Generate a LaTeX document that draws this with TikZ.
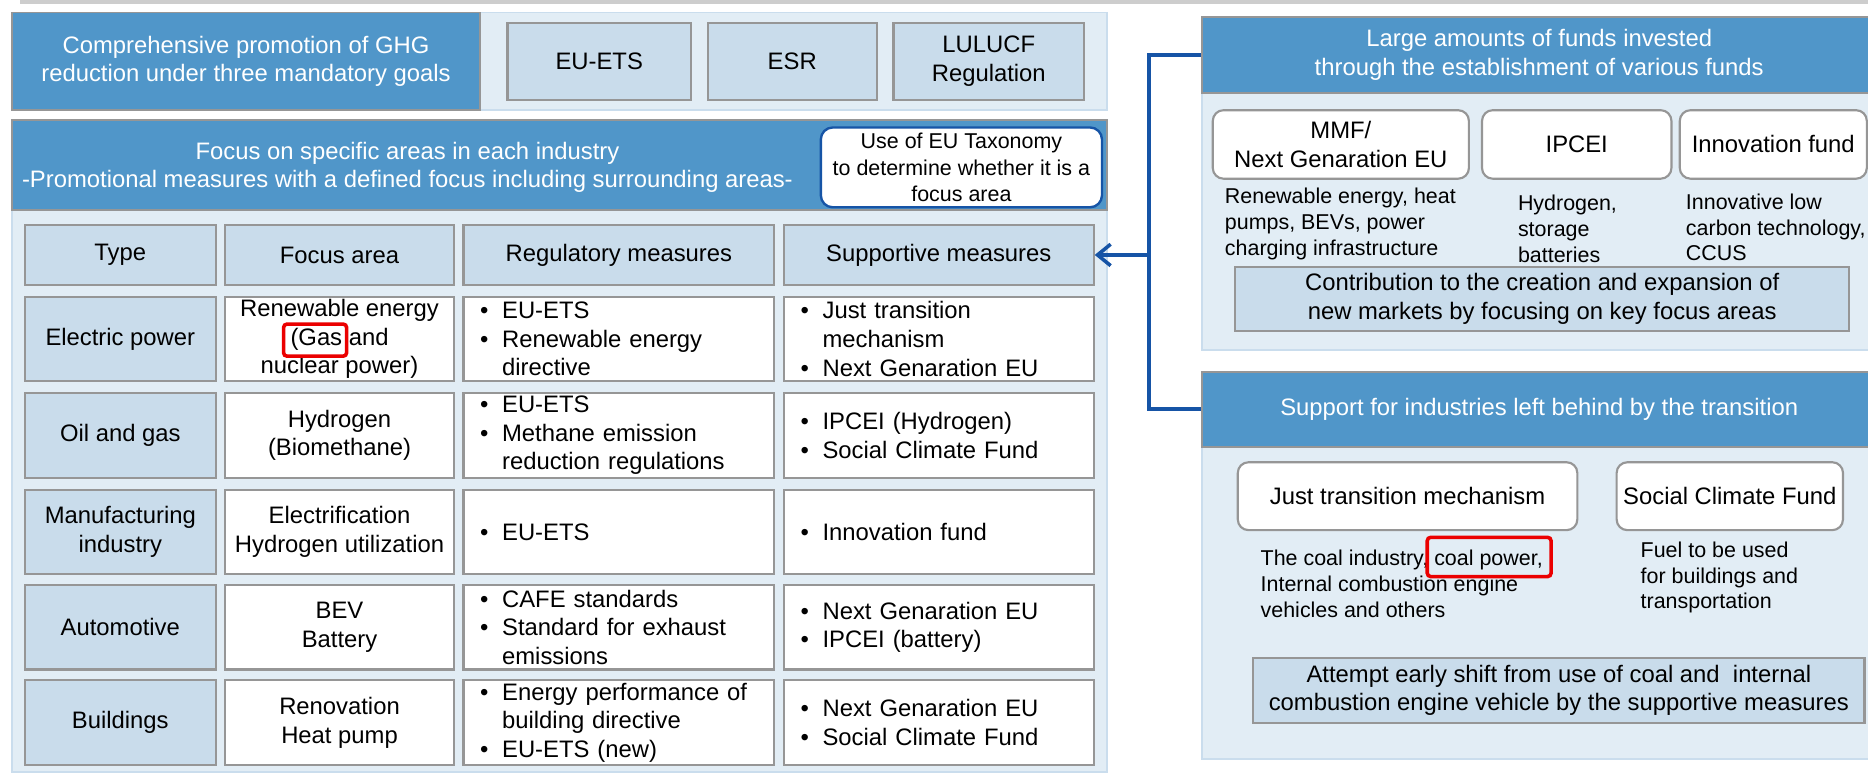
\documentclass[tikz,border=0pt]{standalone}
\usepackage{fontspec}
\setmainfont{Liberation Sans}
\usetikzlibrary{arrows.meta}

\definecolor{hdrblue}{RGB}{80,150,201}
\definecolor{panelbg}{RGB}{226,237,245}
\definecolor{panelline}{RGB}{202,221,237}
\definecolor{cellblue}{RGB}{201,220,235}
\definecolor{cellline}{RGB}{150,150,150}
\definecolor{linkblue}{RGB}{22,84,166}
\definecolor{markred}{RGB}{235,0,0}
\definecolor{topbar}{RGB}{205,205,205}

\tikzset{
  panel/.style={draw=panelline, line width=1.5pt, fill=panelbg, inner sep=0pt},
  hdrbox/.style={draw=cellline, line width=1.5pt, fill=hdrblue, text=white, align=center, inner sep=0pt},
  lawbox/.style={draw=cellline, line width=1.8pt, fill=cellblue, align=center, inner sep=0pt},
  cell/.style={draw=cellline, line width=1.8pt, fill=white, align=center, inner sep=0pt},
  listcell/.style={cell, align=left, inner xsep=14pt, text width=#1, minimum height=71pt},
  fundbox/.style={draw=cellline, line width=1.8pt, fill=white, rounded corners=9pt, align=center, inner sep=0pt},
  note/.style={align=left, inner sep=0pt, anchor=west, font=\fontsize{18}{21.5}\selectfont},
  link/.style={draw=linkblue, line width=3pt},
  hilite/.style={draw=markred, line width=3pt, rounded corners=3pt},
}

% bullet item and continuation line
\newcommand{\bul}{\makebox[18.5pt][l]{\textbullet}}
\newcommand{\ind}{\hspace*{18.5pt}}

\begin{document}
\begin{tikzpicture}[x=1pt, y=-1pt, font=\fontsize{20}{24}\selectfont]
    \useasboundingbox (0,0) rectangle (1568,650);
    \fill[topbar] (17,0) rectangle (1568,3);

    % mandatory goals
    \node[panel, minimum width=526pt, minimum height=82pt] (goalpanel) at (666,51.5) {};
    \node[hdrbox, minimum width=393pt, minimum height=82pt] (goalhdr) at (206.5,51.5)
        {Comprehensive promotion of GHG\\reduction under three mandatory goals};
    \node[lawbox, minimum width=154pt, minimum height=65pt] (ets) at (503,51.5) {EU-ETS};
    \node[lawbox, minimum width=142pt, minimum height=65pt] (esr) at (665,51.5) {ESR};
    \node[lawbox, minimum width=160pt, minimum height=65pt] (lulucf) at (830,51.5) {LULUCF\\Regulation};

    % focus areas
    \node[panel, minimum width=919pt, minimum height=472pt] (focuspanel) at (469.5,412) {};
    \node[hdrbox, minimum width=919pt, minimum height=75pt] (focushdr) at (469.5,138.5) {};
    \node[text=white, align=center, inner sep=0pt] (focustxt) at (342,140.5)
        {Focus on specific areas in each industry\\-Promotional measures with a defined focus including surrounding areas-};
    \node[draw=linkblue, line width=2pt, fill=white, rounded corners=10pt, align=center, inner sep=0pt,
        minimum width=236pt, minimum height=67pt, font=\fontsize{18}{22}\selectfont] (taxonomy) at (807,140.5)
        {Use of EU Taxonomy\\to determine whether it is a\\focus area};

    \node[lawbox, minimum width=160pt, minimum height=50pt] (typehdr) at (101,214) {Type};
    \node[lawbox, minimum width=192pt, minimum height=50pt] (areahdr) at (285,214) {Focus area};
    \node[lawbox, minimum width=261pt, minimum height=50pt] (reghdr) at (519.5,214) {Regulatory measures};
    \node[lawbox, minimum width=260pt, minimum height=50pt] (suphdr) at (788,214) {Supportive measures};

    \node[lawbox, minimum width=160pt, minimum height=71pt] (power) at (101,284.5) {Electric power};
    \node[cell, minimum width=192pt, minimum height=71pt] (powerarea) at (285,284.5) {Renewable energy\\(Gas and\\nuclear power)};
    \node[listcell=233pt] (powerreg) at (519.5,284.5) {\bul EU-ETS\\\bul Renewable energy\\\ind directive};
    \node[listcell=232pt] (powersup) at (788,284.5) {\bul Just transition\\\ind mechanism\\\bul Next Genaration EU};

    \node[lawbox, minimum width=160pt, minimum height=71pt] (oilgas) at (101,365.5) {Oil and gas};
    \node[cell, minimum width=192pt, minimum height=71pt] (oilgasarea) at (285,365.5) {Hydrogen\\(Biomethane)};
    \node[listcell=233pt] (oilgasreg) at (519.5,365.5) {\bul EU-ETS\\\bul Methane emission\\\ind reduction regulations};
    \node[listcell=232pt] (oilgassup) at (788,365.5) {\bul IPCEI (Hydrogen)\\\bul Social Climate Fund};

    \node[lawbox, minimum width=160pt, minimum height=71pt] (maker) at (101,446.5) {Manufacturing\\industry};
    \node[cell, minimum width=192pt, minimum height=71pt] (makerarea) at (285,446.5) {Electrification\\Hydrogen utilization};
    \node[listcell=233pt] (makerreg) at (519.5,446.5) {\bul EU-ETS};
    \node[listcell=232pt] (makersup) at (788,446.5) {\bul Innovation fund};

    \node[lawbox, minimum width=160pt, minimum height=71pt] (auto) at (101,526.5) {Automotive};
    \node[cell, minimum width=192pt, minimum height=71pt] (autoarea) at (285,526.5) {BEV\\Battery};
    \node[listcell=233pt] (autoreg) at (519.5,526.5) {\bul CAFE standards\\\bul Standard for exhaust\\\ind emissions};
    \node[listcell=232pt] (autosup) at (788,526.5) {\bul Next Genaration EU\\\bul IPCEI (battery)};

    \node[lawbox, minimum width=160pt, minimum height=71pt] (bldg) at (101,606.5) {Buildings};
    \node[cell, minimum width=192pt, minimum height=71pt] (bldgarea) at (285,606.5) {Renovation\\Heat pump};
    \node[listcell=233pt] (bldgreg) at (519.5,606.5) {\bul Energy performance of\\\ind building directive\\\bul EU-ETS (new)};
    \node[listcell=232pt] (bldgsup) at (788,606.5) {\bul Next Genaration EU\\\bul Social Climate Fund};

    \draw[hilite] (238,272) rectangle (291,299);

    % funds (the panels run on past the right edge)
    \node[panel, minimum width=566pt, minimum height=280pt] (fundspanel) at (1292,154) {};
    \node[hdrbox, minimum width=566pt, minimum height=64pt] (fundshdr) at (1292,46)
        {Large amounts of funds invested\\through the establishment of various funds};
    \node[fundbox, minimum width=215pt, minimum height=57.5pt] (mmf) at (1125.5,121.25) {MMF/\\Next Genaration EU};
    \node[fundbox, minimum width=159pt, minimum height=57.5pt] (ipcei) at (1323.5,121.25) {IPCEI};
    \node[fundbox, minimum width=157pt, minimum height=57.5pt] (innov) at (1488.5,121.25) {Innovation fund};
    \node[note] (mmftxt) at (1028,188) {Renewable energy, heat\\pumps, BEVs, power\\charging infrastructure};
    \node[note] (ipceitxt) at (1274,192) {Hydrogen,\\storage\\batteries};
    \node[note] (innovtxt) at (1415,191) {Innovative low\\carbon technology,\\CCUS};
    \node[lawbox, minimum width=515pt, minimum height=54pt] (market) at (1294.5,251)
        {Contribution to the creation and expansion of\\new markets by focusing on key focus areas};

    % support for industries left behind
    \node[panel, minimum width=566pt, minimum height=325pt] (supportpanel) at (1292,474.5) {};
    \node[hdrbox, minimum width=566pt, minimum height=63pt] (supporthdr) at (1292,343.5)
        {Support for industries left behind by the transition};
    \node[fundbox, minimum width=285pt, minimum height=57pt] (jtm) at (1181.5,416.5) {Just transition mechanism};
    \node[fundbox, minimum width=190pt, minimum height=57pt] (scf) at (1452,416.5) {Social Climate Fund};
    \node[note] (jtmtxt) at (1058,490) {The coal industry, coal power,\\Internal combustion engine\\vehicles and others};
    \node[note] (scftxt) at (1377,485) {Fuel to be used\\for buildings and\\transportation};
    \node[lawbox, minimum width=513pt, minimum height=55pt] (shift) at (1308.5,579.5)
        {Attempt early shift from use of coal and\ \ internal\\combustion engine vehicle by the supportive measures};

    \draw[hilite] (1198,451) rectangle (1302,484);

    % both money streams feed the supportive measures
    \coordinate (split) at (964.5,214);
    \draw[link] (fundshdr.west) -| (split) |- (supporthdr.west);
    \draw[link, -{Straight Barb[length=11pt,width=18pt]}] (split) -- (suphdr.east);
\end{tikzpicture}
\end{document}
